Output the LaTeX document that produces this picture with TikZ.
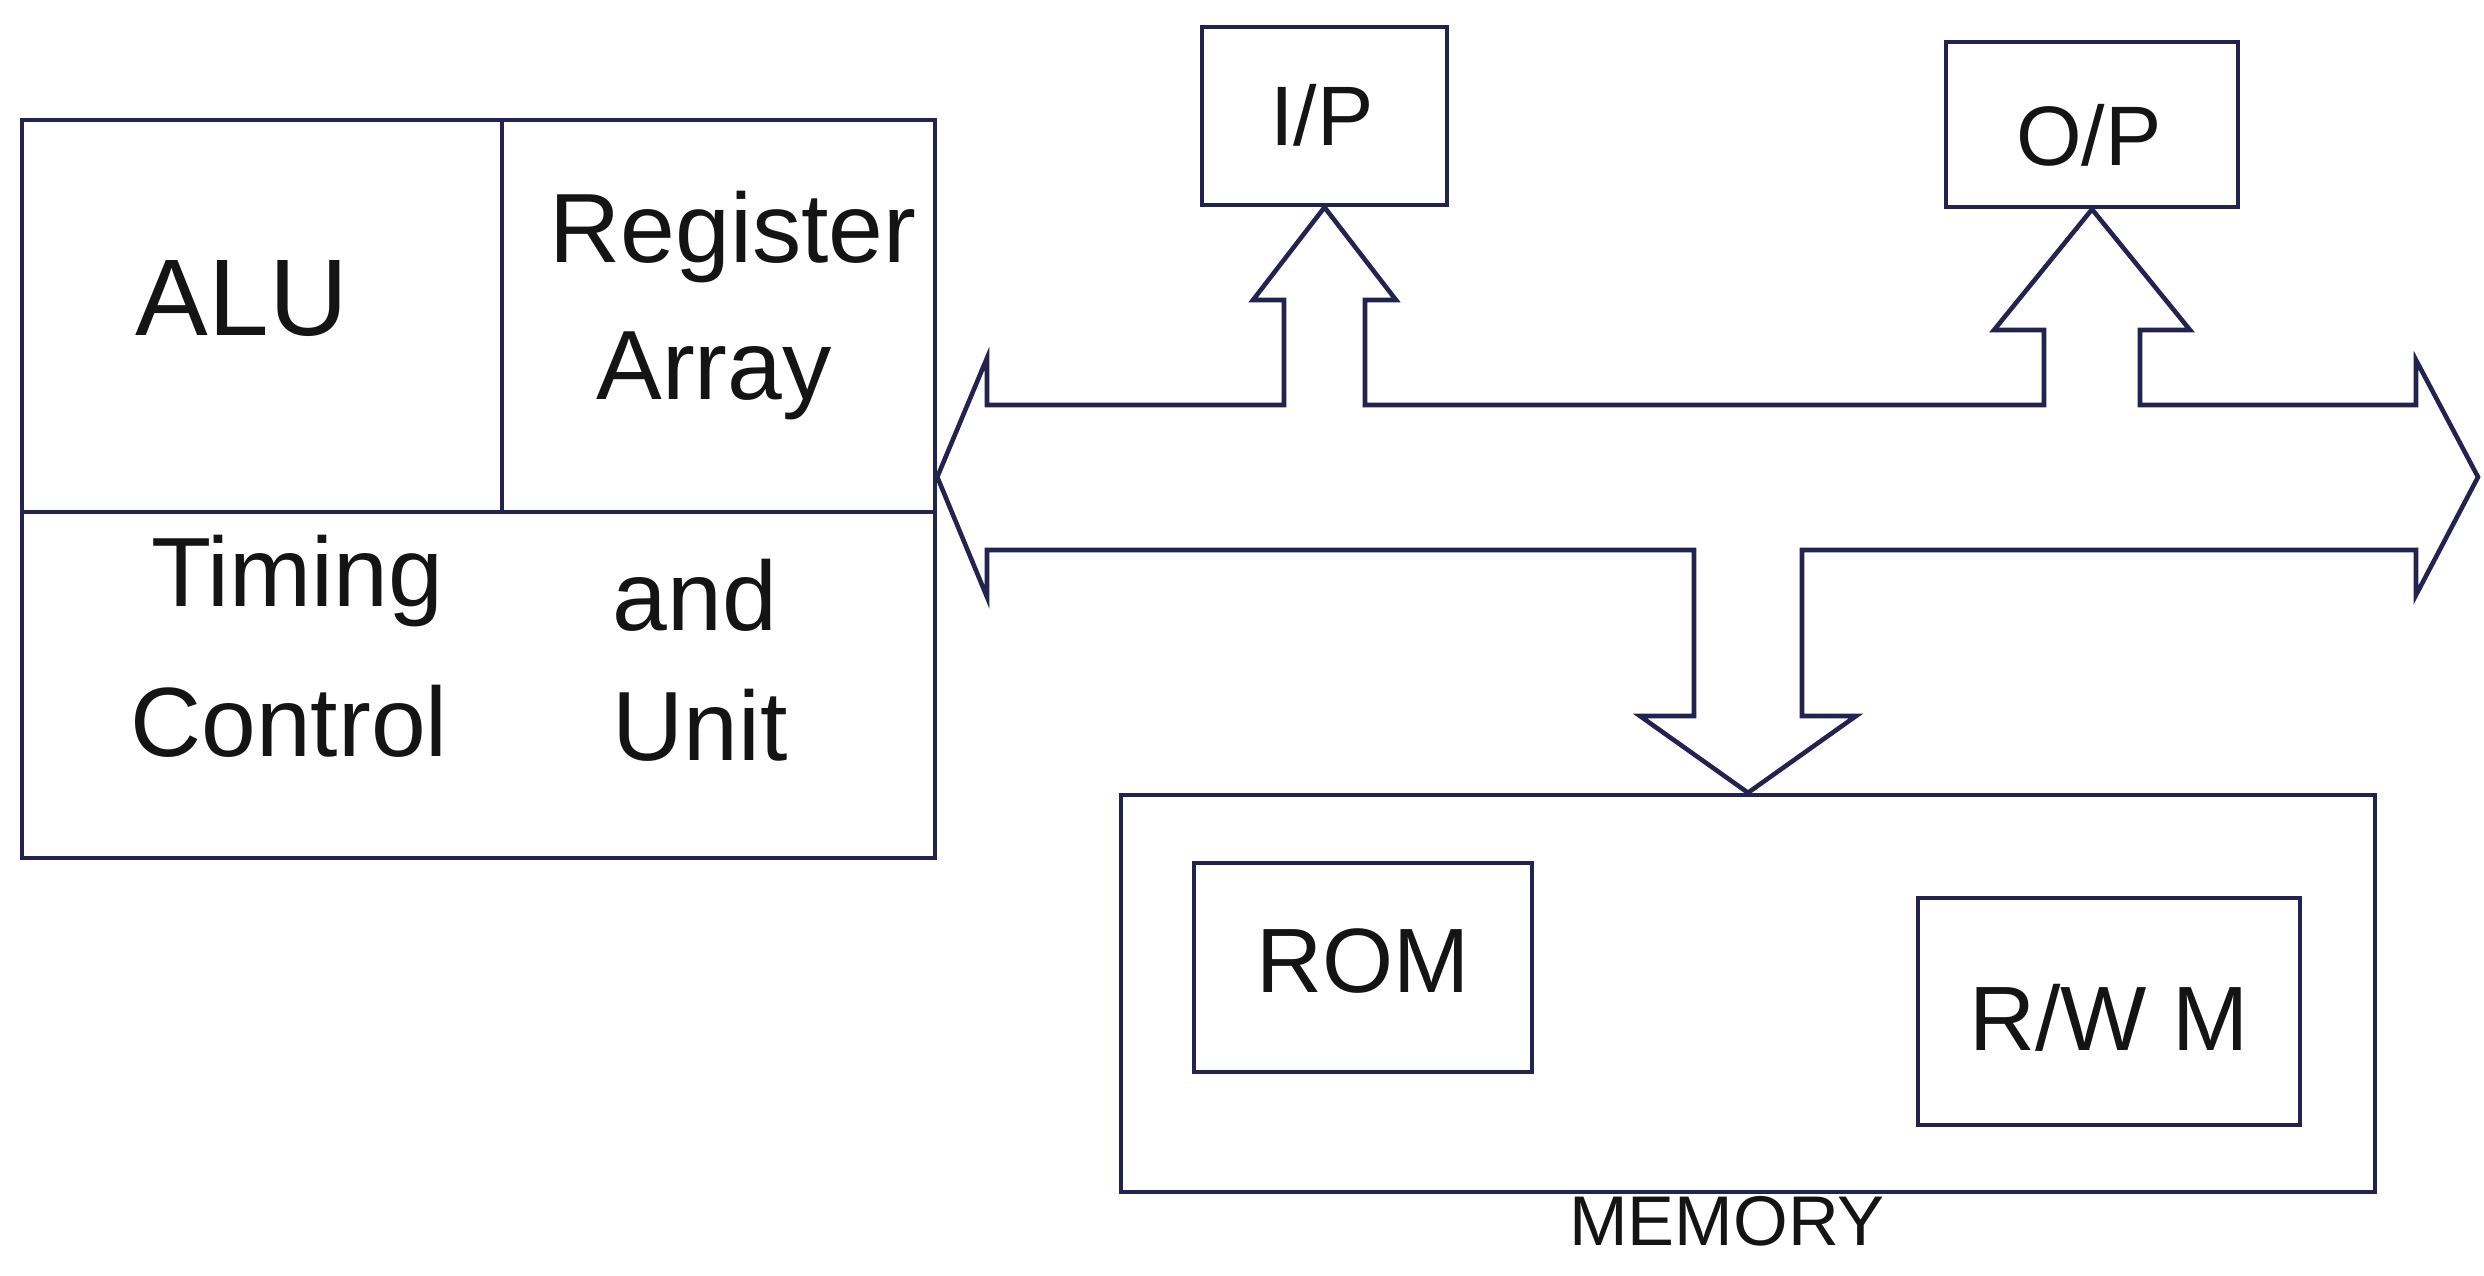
\documentclass[tikz,border=0pt]{standalone}
\usepackage{fontspec}
\setmainfont{Liberation Sans}
\usetikzlibrary{fit,calc}
\definecolor{ink}{HTML}{23234F}
\definecolor{pen}{HTML}{141414}
\begin{document}
\begin{tikzpicture}[x=0.01cm,y=-0.01cm,
  box/.style={draw=ink, line width=1.3pt, inner sep=0pt},
  rule/.style={draw=ink, line width=1.3pt},
  bus/.style={draw=ink, line width=1.3pt, line join=miter},
  lbl/.style={font=\fontsize{28}{32}\selectfont, text=pen, inner sep=0pt, anchor=base},
  iolbl/.style={font=\fontsize{24}{28}\selectfont, text=pen, inner sep=0pt, anchor=base},
  memlbl/.style={font=\fontsize{26}{30}\selectfont, text=pen, inner sep=0pt, anchor=base},
  caption/.style={font=\fontsize{20}{24}\selectfont, text=pen, inner sep=0pt, anchor=base}]
\useasboundingbox[fill=white] (0,0) rectangle (2484,1275);

% CPU block: ALU, register array, timing and control unit
\node[box, fit={(22,120) (935,858)}] (cpu) {};
\coordinate (cpuw) at (cpu.west |- 0,512);
\coordinate (cpue) at (cpu.east |- 0,512);
\coordinate (divtop) at (cpu.north -| 502,0);
\coordinate (divbot) at (502,512);
\draw[rule] (cpuw) -- (cpue);
\draw[rule] (divtop) -- (divbot);
\node[lbl, font=\fontsize{31}{35}\selectfont] (alu) at (242,335) {ALU};
\node[lbl] (reg) at (733,262) {Register};
\node[lbl] (arr) at (714,399) {Array};
\node[lbl] (timing) at (297,606) {Timing};
\node[lbl] (and) at (695,630) {and};
\node[lbl] (control) at (289,756) {Control};
\node[lbl] (unit) at (700,760) {Unit};

% input and output ports
\node[box, fit={(1202,27) (1447,205)}] (ip) {};
\node[iolbl] (iptext) at (1322,145) {I/P};
\node[box, fit={(1946,42) (2238,207)}] (op) {};
\node[iolbl] (optext) at (2089,165) {O/P};

% memory with ROM and R/W M
\node[box, fit={(1121,795) (2375,1192)}] (mem) {};
\node[box, fit={(1194,863) (1532,1072)}] (rom) {};
\node[memlbl] (romtext) at (rom.center |- 0,992) {ROM};
\node[box, fit={(1918,898) (2300,1125)}] (rwm) {};
\node[memlbl] (rwmtext) at (rwm.center |- 0,1050) {R/W M};
\node[caption] (memtext) at (1727,1245) {MEMORY};

% system bus: two-way to the CPU, branches up to I/P and O/P, down to memory
\coordinate (busL) at (cpu.east |- 0,477);
\coordinate (busR) at (2478,477);
\draw[bus]
  (busL) -- (987,358) -- (987,405)
  -- (1284,405) -- (1284,300) -- (1253,300) -- (ip.south) -- (1396,300) -- (1365,300) -- (1365,405)
  -- (2044,405) -- (2044,330) -- (1994,330) -- (op.south) -- (2190,330) -- (2140,330) -- (2140,405)
  -- (2416,405) -- (2416,360) -- (busR) -- (2416,595) -- (2416,550)
  -- (1802,550) -- (1802,716) -- (1856,716) -- (mem.north) -- (1640,716) -- (1694,716) -- (1694,550)
  -- (987,550) -- (987,597) -- cycle;
\end{tikzpicture}
\end{document}
